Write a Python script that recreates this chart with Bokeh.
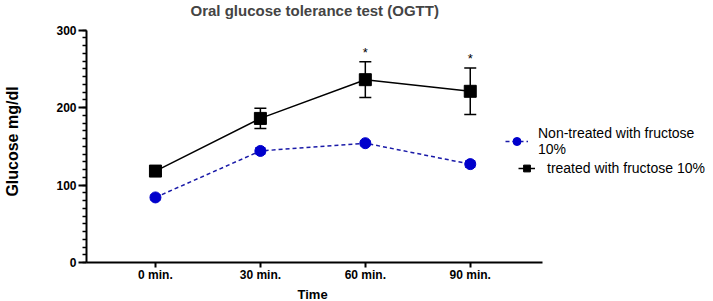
from bokeh.plotting import figure
from bokeh.models import (ColumnDataSource, Range1d, Whisker, TeeHead, Legend, LegendItem,
                          SingleIntervalTicker, FixedTicker, Title)
from bokeh.core.properties import value
from bokeh.embed import file_html
from bokeh.resources import INLINE

categories = ["0 min.", "30 min.", "60 min.", "90 min."]
treated_mean = [118, 186, 236, 221]
treated_err = [4, 13, 23, 30]
non_mean = [84, 144, 154, 127]
non_err = [3, 4, 3, 4]
star_flags = ["", "", "*", "*"]

FONT = "Liberation Sans"
xs = list(range(len(categories)))
X_START, X_AXIS_END, X_END = -0.657, 3.686, 5.318
Y_AXIS_END, Y_END = 300, 312.4

p = figure(width=713, height=301, output_backend="svg", toolbar_location=None,
           x_range=Range1d(X_START, X_END), y_range=Range1d(0, Y_END),
           min_border_left=86, min_border_right=0, min_border_top=20, min_border_bottom=38)
p.outline_line_color = None
p.grid.visible = False
p.background_fill_color = "white"

p.title.text = "Oral glucose tolerance test (OGTT)"
p.title.align = "left"
p.title.offset = 104
p.title.vertical_align = "top"
p.title.standoff = 0
p.title.text_font = FONT
p.title.text_font_size = "15px"
p.title.text_font_style = "bold"

# axes
p.yaxis.ticker = SingleIntervalTicker(interval=100, num_minor_ticks=10)
p.yaxis.bounds = (0, Y_AXIS_END)
p.xaxis.ticker = FixedTicker(ticks=xs)
p.xaxis.bounds = (X_START, X_AXIS_END)
p.xaxis.major_label_overrides = {i: c for i, c in zip(xs, categories)}
for ax in (p.xaxis[0], p.yaxis[0]):
    ax.axis_line_width = 2
    ax.axis_line_color = "black"
    ax.major_tick_line_width = 2
    ax.major_tick_in = 0
    ax.major_label_text_font = FONT
    ax.major_label_text_font_style = "bold"
    ax.major_label_text_font_size = "12px"
    ax.major_label_text_color = "black"
    ax.axis_label_text_font = FONT
    ax.axis_label_text_font_style = "bold"
    ax.axis_label_text_color = "black"
p.yaxis.major_tick_out = 8
p.xaxis.major_tick_out = 5
p.yaxis.minor_tick_out = 4
p.yaxis.minor_tick_in = 0
p.yaxis.minor_tick_line_width = 1.5
p.yaxis.minor_tick_line_color = "black"
p.xaxis.minor_tick_line_color = None
p.yaxis.axis_label = "Glucose mg/dl"
p.yaxis.axis_label_text_font_size = "16px"
p.yaxis.axis_label_standoff = 32
p.yaxis.major_label_standoff = 2
p.xaxis.major_label_standoff = 0

time_title = Title(text="Time", align="left", offset=211, standoff=0,
                   text_font=FONT, text_font_size="13px", text_font_style="bold",
                   text_color="black")
p.add_layout(time_title, "below")

src_t = ColumnDataSource(dict(x=xs, y=treated_mean,
                              lo=[m - e for m, e in zip(treated_mean, treated_err)],
                              hi=[m + e for m, e in zip(treated_mean, treated_err)],
                              star_y=[m + e + 12 for m, e in zip(treated_mean, treated_err)],
                              star=star_flags))
src_n = ColumnDataSource(dict(x=xs, y=non_mean,
                              lo=[m - e for m, e in zip(non_mean, non_err)],
                              hi=[m + e for m, e in zip(non_mean, non_err)]))

blue = "#0000CC"
w_n = Whisker(source=src_n, base="x", upper="hi", lower="lo", line_color=blue, line_width=1.5,
              upper_head=TeeHead(size=10, line_color=blue, line_width=1.5),
              lower_head=TeeHead(size=10, line_color=blue, line_width=1.5))
p.add_layout(w_n)
ln_n = p.line("x", "y", source=src_n, line_color="#1a1aa8", line_width=1.5, line_dash="4 3")
sc_n = p.scatter("x", "y", source=src_n, marker="circle", size=11, fill_color=blue, line_color=blue)

w_t = Whisker(source=src_t, base="x", upper="hi", lower="lo", line_color="black", line_width=1.5,
              upper_head=TeeHead(size=12, line_color="black", line_width=1.5),
              lower_head=TeeHead(size=12, line_color="black", line_width=1.5))
p.add_layout(w_t)
ln_t = p.line("x", "y", source=src_t, line_color="black", line_width=1.5)
sc_t = p.scatter("x", "y", source=src_t, marker="square", size=12, fill_color="black", line_color="black")

p.text("x", "star_y", text="star", source=src_t, text_align="center", text_baseline="middle",
       text_font=value(FONT), text_font_size="13px", text_color="black")

leg1 = Legend(items=[LegendItem(label="Non-treated with fructose\n10%", renderers=[ln_n, sc_n])],
              location=(419, 105), glyph_width=23, label_standoff=10, padding=0, margin=0,
              border_line_color=None, background_fill_alpha=0,
              label_text_font=FONT, label_text_font_size="14px", label_text_color="black",
              label_text_line_height=1.0)
leg2 = Legend(items=[LegendItem(label="treated with fructose 10%", renderers=[ln_t, sc_t])],
              location=(432, 84), glyph_width=17, label_standoff=12, padding=0, margin=0,
              border_line_color=None, background_fill_alpha=0,
              label_text_font=FONT, label_text_font_size="14px", label_text_color="black")
p.add_layout(leg1, "center")
p.add_layout(leg2, "center")

open("out.html", "w").write(file_html(p, INLINE))
